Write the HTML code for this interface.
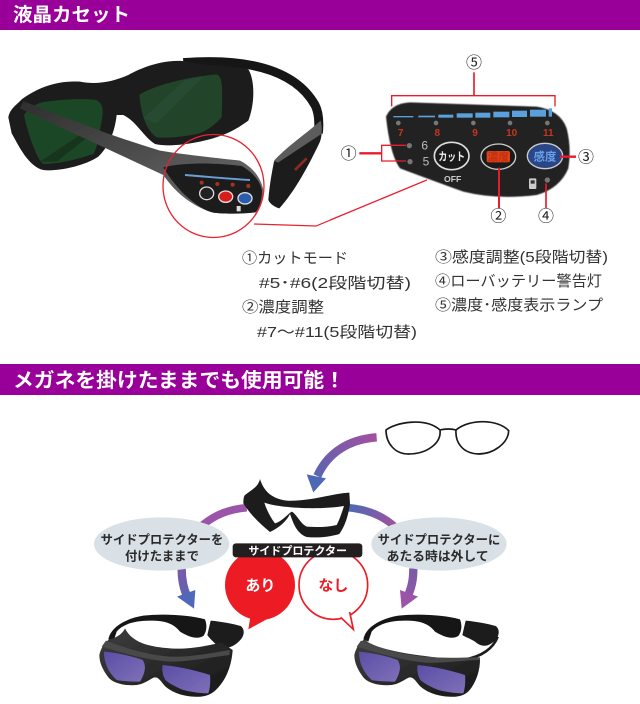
<!DOCTYPE html>
<html lang="ja"><head><meta charset="utf-8"><style>
html,body{margin:0;padding:0;background:#fff}
svg{display:block}
text{font-family:"Liberation Sans","Noto Sans CJK JP",sans-serif}
</style></head><body>
<svg width="640" height="704" viewBox="0 0 640 704" xmlns="http://www.w3.org/2000/svg">
<defs>
<linearGradient id="a1" gradientUnits="userSpaceOnUse" x1="890" y1="80" x2="700" y2="240"><stop offset="0" stop-color="#a2509f"/><stop offset="1" stop-color="#4f68b4"/></linearGradient>
<linearGradient id="a2" gradientUnits="userSpaceOnUse" x1="300" y1="480" x2="340" y2="595"><stop offset="0" stop-color="#7a5aa8"/><stop offset="1" stop-color="#4f68b8"/></linearGradient>
<linearGradient id="a3" gradientUnits="userSpaceOnUse" x1="810" y1="290" x2="940" y2="340"><stop offset="0" stop-color="#4f68b4"/><stop offset="1" stop-color="#9a55a0"/></linearGradient>
<linearGradient id="a4" gradientUnits="userSpaceOnUse" x1="1000" y1="480" x2="965" y2="595"><stop offset="0" stop-color="#7a5aa8"/><stop offset="1" stop-color="#9a55a8"/></linearGradient>
<linearGradient id="fr" x1="0" y1="0" x2="1" y2="1"><stop offset="0" stop-color="#3e3e3e"/><stop offset="1" stop-color="#161616"/></linearGradient>
<linearGradient id="lens" x1="0" y1="0" x2="1" y2="1"><stop offset="0" stop-color="#5a4ea6"/><stop offset="1" stop-color="#7f70b8"/></linearGradient>
<linearGradient id="tmp" x1="0" y1="0" x2="1" y2="1"><stop offset="0" stop-color="#2e2e2e"/><stop offset="1" stop-color="#707070"/></linearGradient>
<filter id="b" x="-5%" y="-5%" width="110%" height="110%"><feGaussianBlur stdDeviation="1.200"/></filter>
<filter id="b2" x="-5%" y="-5%" width="110%" height="110%"><feGaussianBlur stdDeviation="0.500"/></filter>
</defs>

<rect x="0" y="0" width="640" height="30" fill="#990099"/>
<text x="13" y="21" font-size="19" font-weight="700" fill="#fff" textLength="117" lengthAdjust="spacingAndGlyphs">液晶カセット</text>
<rect x="0" y="364" width="640" height="31" fill="#990099"/>
<text x="13" y="387" font-size="20" font-weight="700" fill="#fff" textLength="332" lengthAdjust="spacingAndGlyphs">メガネを掛けたままでも使用可能！</text>

<!-- main goggles -->
<g transform="translate(0,30) scale(.33333)" filter="url(#b2)">
<path d="M550,98 C720,85 880,110 945,225 C958,250 958,280 955,310" fill="none" stroke="#191919" stroke-width="27"/>
<path d="M25,262 C30,235 50,225 65,208 C110,175 170,150 240,155 C290,165 340,155 385,135 C430,110 500,85 560,95 C640,110 700,105 745,118 C765,150 765,220 745,272 C700,305 660,322 600,335 C550,345 500,350 465,342 C430,320 410,275 370,255 L350,255 C345,300 330,345 295,380 C250,410 170,425 130,420 C85,410 55,345 35,310 Z" fill="#1a1a1a"/>
<path d="M418,195 C450,170 560,140 650,133 C668,140 668,170 665,262 C640,290 610,308 590,312 C540,322 500,325 470,322 C445,305 425,270 418,195 Z" fill="#21442b"/>
<path d="M430,265 L555,150 L610,140 L470,280 Z" fill="#2a5235" opacity=".6"/>
<path d="M72,255 C90,230 120,215 140,215 C190,208 250,205 290,210 C312,225 312,240 300,300 C295,335 288,360 280,372 C220,392 170,402 130,402 C115,395 85,320 72,255 Z" fill="#1f4628"/>
<path d="M120,395 L255,305 L290,300 L170,395 Z" fill="#16351d"/>
<path d="M962,275 C968,300 965,320 960,335 C925,410 880,490 838,535 C825,532 810,522 805,510 C808,470 815,430 822,395 C860,350 920,310 962,275 Z" fill="#1c1c1c"/>
<path d="M962,272 C966,290 966,300 964,312 L834,398 L822,392 C860,350 920,310 962,272 Z" fill="#5c5c5c"/>
<path d="M885,420 L920,385" stroke="#8a2a20" stroke-width="8"/>
<path d="M70,213 C200,265 340,320 480,362 C560,375 660,385 720,392 C755,410 782,440 790,480 C790,510 780,535 768,547 C720,552 670,552 640,548 C590,535 530,495 490,435 C350,370 200,300 60,235 Z" fill="url(#tmp)"/>
<path d="M490,412 C560,395 660,400 725,408 C755,425 780,450 786,482 C786,510 778,535 766,547 C720,552 670,552 640,548 C590,535 530,480 490,412 Z" fill="#1f1f1f"/>
<path d="M555,435 C620,440 690,447 750,450" stroke="#6aa0d8" stroke-width="6" fill="none"/>
<g fill="#a83020"><circle cx="605" cy="458" r="6"/><circle cx="652" cy="462" r="6"/><circle cx="698" cy="464" r="6"/><circle cx="745" cy="468" r="6"/></g>
<ellipse cx="620" cy="490" rx="21" ry="19" fill="#222" stroke="#ddd" stroke-width="4"/>
<ellipse cx="677" cy="500" rx="21" ry="17" fill="#d81e1e" stroke="#ddd" stroke-width="4"/>
<ellipse cx="735" cy="505" rx="21" ry="17" fill="#2c5db0" stroke="#ddd" stroke-width="4"/>
<rect x="710" y="528" width="12" height="16" fill="#ddd"/>
</g>
<ellipse cx="213.500" cy="186" rx="50.500" ry="51.500" fill="none" stroke="#e8222e" stroke-width="1.300"/>
<path d="M254,224 L316,226 L427,180" fill="none" stroke="#e8222e" stroke-width="1.200"/>

<!-- panel -->
<g transform="translate(330,45) scale(.33333)">
<path d="M168,215 Q185,175 240,172 L620,185 Q690,195 710,250 Q725,310 715,370 Q690,430 620,450 Q500,465 400,440 Q290,400 210,370 Q180,330 168,215 Z" fill="#232323" filter="url(#b)"/>
<g fill="#5aa0dc">
<rect x="190" y="213" width="60" height="4"/><rect x="265" y="212" width="50" height="5"/><rect x="325" y="209" width="45" height="9"/><rect x="380" y="205" width="48" height="13"/><rect x="436" y="203" width="45" height="15"/><rect x="490" y="200" width="48" height="17"/><rect x="546" y="197" width="45" height="19"/><rect x="600" y="194" width="48" height="21"/><rect x="656" y="190" width="10" height="25"/>
</g>
<g fill="#777"><circle cx="205" cy="234" r="7"/><circle cx="318" cy="234" r="7"/><circle cx="430" cy="234" r="7"/><circle cx="540" cy="234" r="7"/><circle cx="652" cy="234" r="7"/><circle cx="238" cy="302" r="8"/><circle cx="240" cy="350" r="8"/><circle cx="652" cy="405" r="8"/></g>
<g fill="#c8351f" font-size="30" font-weight="700" text-anchor="middle"><text x="212" y="273">7</text><text x="322" y="273">8</text><text x="435" y="273">9</text><text x="545" y="273">10</text><text x="655" y="273">11</text></g>
<g fill="#bbb" font-size="36" text-anchor="middle"><text x="284" y="313">6</text><text x="288" y="361">5</text></g>
<text x="368" y="411" font-size="26" font-weight="700" fill="#ccc" text-anchor="middle">OFF</text>
<ellipse cx="365" cy="333" rx="52" ry="41" fill="#1a1a1a" stroke="#ddd" stroke-width="5"/>
<text x="365" y="346" font-size="34" font-weight="700" fill="#eee" text-anchor="middle" textLength="80" lengthAdjust="spacingAndGlyphs">カット</text>
<ellipse cx="505" cy="335" rx="52" ry="38" fill="#1a1a1a" stroke="#ccc" stroke-width="4"/>
<rect x="470" y="318" width="70" height="34" rx="6" fill="#e0431a"/>
<text x="505" y="346" font-size="32" font-weight="700" fill="#c03010" text-anchor="middle">濃度</text>
<ellipse cx="645" cy="333" rx="53" ry="38" fill="#2a4686" stroke="#ccc" stroke-width="4"/>
<text x="645" y="346" font-size="34" font-weight="700" fill="#6aa0ea" text-anchor="middle">感度</text>
<rect x="597" y="400" width="22" height="32" rx="3" fill="#ccc"/><rect x="602" y="406" width="12" height="10" fill="#333"/>

<g fill="none" stroke="#ea1c2c">
<path d="M185,184 L185,152 L675,152 L675,184" stroke-width="4"/>
<path d="M432,82 L432,152" stroke-width="5"/>
<path d="M88,325 L155,325" stroke-width="7"/>
<path d="M228,301 L155,301 L155,348 L228,348" stroke-width="4"/>
<path d="M690,335 L738,335" stroke-width="7"/>
<path d="M507,368 L507,490" stroke-width="6"/>
<path d="M648,415 L648,490" stroke-width="5"/>
<path d="M290,405 L0,525" stroke-width="3"/>
</g>
<g font-size="48" fill="#222" text-anchor="middle"><text x="432" y="69">⑤</text><text x="56" y="342">①</text><text x="768" y="352">③</text><text x="505" y="530">②</text><text x="648" y="530">④</text></g>
</g>

<!-- description text -->
<g font-size="15" fill="#333">
<text x="242" y="263" textLength="106" lengthAdjust="spacingAndGlyphs">①カットモード</text>
<text x="259" y="288" textLength="152" lengthAdjust="spacingAndGlyphs">#5･#6(2段階切替)</text>
<text x="242" y="312" textLength="82" lengthAdjust="spacingAndGlyphs">②濃度調整</text>
<text x="257" y="337" textLength="160" lengthAdjust="spacingAndGlyphs">#7～#11(5段階切替)</text>
<text x="435" y="262" textLength="173" lengthAdjust="spacingAndGlyphs">③感度調整(5段階切替)</text>
<text x="435" y="286" textLength="167" lengthAdjust="spacingAndGlyphs">④ローバッテリー警告灯</text>
<text x="435" y="310" textLength="168" lengthAdjust="spacingAndGlyphs">⑤濃度･感度表示ランプ</text>
</g>

<!-- lower diagram, zoom coordinates -->
<g transform="translate(80,410) scale(.33333)">
<path d="M918,60 C945,38 1035,20 1080,60 C1085,100 1040,132 985,132 C945,132 918,100 918,60 Z M1128,60 C1170,25 1255,28 1286,62 C1285,100 1240,132 1195,132 C1150,130 1125,100 1128,60 Z M1080,60 C1095,56 1115,56 1128,60" fill="none" stroke="#1a1a1a" stroke-width="5"/>
<path d="M890,82 C810,88 745,125 712,198" fill="none" stroke="url(#a1)" stroke-width="25"/>
<path d="M700,247 L680,193 L738,205 Z" fill="#4f68b4"/>
<path d="M500,293 C445,298 405,315 368,345" fill="none" stroke="#9a55a8" stroke-width="23"/>
<path d="M805,293 C860,298 905,315 942,348" fill="none" stroke="url(#a3)" stroke-width="23"/>
<path d="M305,475 C305,510 310,535 322,560" fill="none" stroke="url(#a2)" stroke-width="25"/>
<path d="M342,596 L291,560 L346,540 Z" fill="#4f68b8"/>
<path d="M1000,475 C1000,510 995,530 985,555" fill="none" stroke="url(#a4)" stroke-width="25"/>
<path d="M965,596 L960,540 L1014,560 Z" fill="#9a55a8"/>

<path d="M540,207 C548,232 565,265 620,272 C690,275 760,250 808,248 L810,282 C805,310 800,340 778,372 C745,382 710,384 680,381 C650,370 640,340 630,312 C620,332 600,352 570,366 C540,342 510,312 490,280 C490,265 492,258 495,255 C515,240 535,230 540,207 Z" fill="#1c1c1c"/>
<path d="M553,278 C600,295 720,300 792,288 C785,310 778,330 770,345 C740,352 710,352 680,350 C660,340 650,312 635,305 C620,315 605,335 585,340 C570,320 560,300 553,278 Z" fill="#fff"/>

<ellipse cx="245" cy="402" rx="203" ry="80" fill="#d9e0e6"/>
<ellipse cx="1077" cy="402" rx="203" ry="80" fill="#d9e0e6"/>
<g font-size="37" font-weight="700" fill="#2a2a2a" text-anchor="middle">
<text x="246" y="402" textLength="368" lengthAdjust="spacingAndGlyphs">サイドプロテクターを</text>
<text x="246" y="451" textLength="222" lengthAdjust="spacingAndGlyphs">付けたままで</text>
<text x="1077" y="402" textLength="368" lengthAdjust="spacingAndGlyphs">サイドプロテクターに</text>
<text x="1073" y="451" textLength="306" lengthAdjust="spacingAndGlyphs">あたる時は外して</text>
</g>

<circle cx="540" cy="525" r="105" fill="#ed1c24"/>
<path d="M505,658 L512,615 L565,625 Z" fill="#ed1c24"/>
<circle cx="760" cy="525" r="103" fill="#fff" stroke="#ed1c24" stroke-width="5"/>
<path d="M782,622 L812,600 L795,590 L770,600 Z" fill="#fff"/>
<path d="M782,622 L820,658 L809,606" fill="#fff" stroke="#ed1c24" stroke-width="5"/>
<rect x="458" y="400" width="389" height="42" rx="10" fill="#231f20"/>
<text x="653" y="433" font-size="33" font-weight="700" fill="#fff" text-anchor="middle" textLength="296" lengthAdjust="spacingAndGlyphs">サイドプロテクター</text>
<text x="541" y="541" font-size="45" font-weight="700" fill="#fff" text-anchor="middle">あり</text>
<text x="760" y="541" font-size="45" font-weight="700" fill="#ed1c24" text-anchor="middle">なし</text>
</g>

<!-- bottom goggles left -->
<g transform="translate(90,600) scale(.33333)" filter="url(#b2)">
<path d="M55,118 C62,80 110,55 160,47 C220,40 300,45 345,58 C352,75 350,95 340,108 C320,120 295,110 270,95 C250,70 225,62 180,62 C130,62 95,75 80,95 L70,125 Z" fill="#161616"/>
<path d="M362,62 C395,65 430,72 452,78 C462,85 465,100 455,115 C440,135 415,148 390,145 C375,130 358,115 352,105 Z" fill="#1b1b1b"/>
<path d="M28,165 C32,145 45,125 58,118 C75,115 95,105 105,85 C125,125 170,140 240,145 C300,150 360,135 395,128 L428,150 C425,195 410,235 385,262 C365,285 345,292 310,290 C275,288 240,275 222,255 C210,240 205,232 195,232 C185,232 170,250 140,255 C105,258 70,250 55,232 C40,212 28,190 28,165 Z" fill="url(#fr)"/>
<path d="M48,122 C120,150 180,165 240,170 C300,172 360,160 420,150 L418,165 C360,172 300,185 240,185 C170,180 100,160 35,140 Z" fill="#4a4a4a"/>
<path d="M42,155 C80,158 125,168 158,180 C168,195 168,215 150,245 C125,245 100,244 80,240 C60,222 42,195 42,155 Z" fill="url(#lens)"/>
<path d="M218,195 C270,200 320,212 360,225 C362,245 360,265 355,280 C325,280 300,275 280,270 C250,258 230,245 225,238 C218,225 215,210 218,195 Z" fill="url(#lens)"/>
</g>
<!-- bottom goggles right -->
<g transform="translate(345,600) scale(.33333)" filter="url(#b2)">
<path d="M55,118 C62,80 110,55 160,47 C220,40 300,45 345,58 C352,75 350,95 340,108 C320,120 295,110 270,95 C250,70 225,62 180,62 C130,62 95,75 80,95 L70,125 Z" fill="#161616"/>
<path d="M362,62 C395,65 430,72 452,78 C462,85 465,100 455,115 C440,135 415,148 390,125 C375,115 358,110 352,105 Z" fill="#1b1b1b"/>
<path d="M458,110 C445,145 410,170 360,178" fill="none" stroke="#1c1c1c" stroke-width="8"/>
<path d="M28,165 C32,145 45,125 58,118 C75,135 130,155 240,168 C300,178 360,175 395,170 L405,178 C405,210 395,240 380,262 C365,285 345,292 310,290 C275,288 240,275 222,255 C210,240 205,232 195,232 C185,232 170,250 140,255 C105,258 70,250 55,232 C40,212 28,190 28,165 Z" fill="url(#fr)"/>
<path d="M48,122 C120,150 180,165 240,170 C300,176 360,172 405,172 L405,180 C360,180 300,190 240,188 C170,180 100,160 35,140 Z" fill="#4a4a4a"/>
<path d="M42,155 C80,158 125,168 158,180 C168,195 168,215 150,245 C125,245 100,244 80,240 C60,222 42,195 42,155 Z" fill="url(#lens)"/>
<path d="M218,195 C270,200 320,212 360,225 C362,245 360,265 355,280 C325,280 300,275 280,270 C250,258 230,245 225,238 C218,225 215,210 218,195 Z" fill="url(#lens)"/>
</g>
</svg>
</body></html>
